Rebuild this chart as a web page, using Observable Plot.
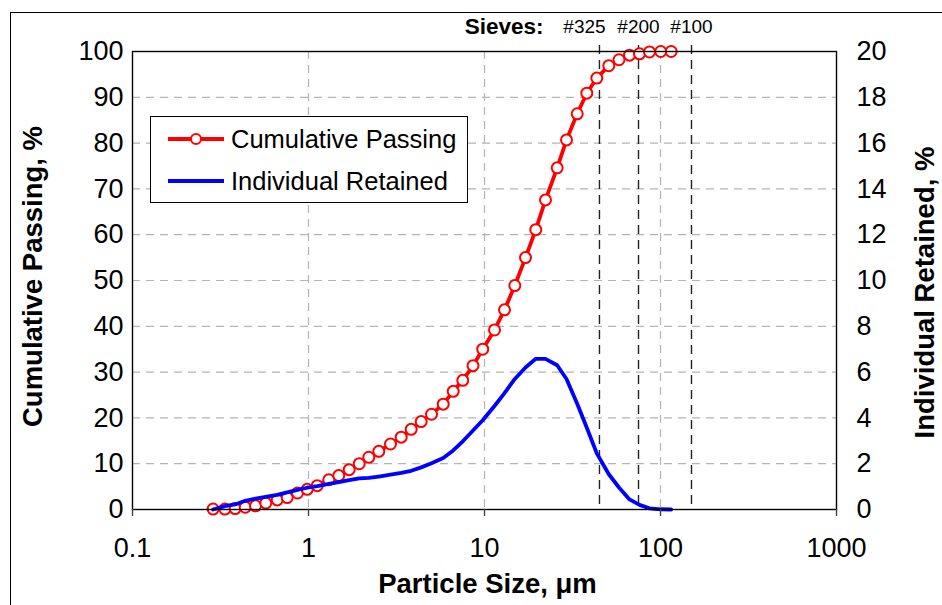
<!DOCTYPE html>
<html>
<head>
<meta charset="utf-8">
<script src="https://cdn.jsdelivr.net/npm/d3@7"></script>
<script src="https://cdn.jsdelivr.net/npm/@observablehq/plot@0.6"></script>
<style>
  html, body { margin: 0; padding: 0; background: #fff; overflow: hidden; }
  #wrap { position: relative; width: 942px; height: 605px; }
  #outer { position: absolute; left: 10px; top: 12px; width: 960px; height: 620px; border: 1.5px solid #000; box-sizing: border-box; }
  #chart { position: absolute; left: 0; top: 0; }
  #legend { position: absolute; left: 150px; top: 116px; width: 318px; height: 87px; border: 1.2px solid #000; background: #fff; box-sizing: border-box; font-family: "Liberation Sans", Arial, sans-serif; font-size: 25.5px; }
  .row { position: absolute; left: 0; height: 30px; display: flex; align-items: center; }
  .row svg { margin-left: 16px; margin-right: 6px; }
</style>
</head>
<body>
<div id="wrap">
  <div id="outer"></div>
  <div id="chart"></div>
  <div id="legend"></div>
</div>
<script>
// Particle sizes (µm) for each measured channel
const sizes = [0.287, 0.335, 0.383, 0.437, 0.500, 0.572, 0.664, 0.757, 0.866, 0.983,
  1.121, 1.304, 1.486, 1.703, 1.942, 2.201, 2.508, 2.924, 3.363, 3.832,
  4.368, 5.000, 5.826, 6.641, 7.526, 8.604, 9.768, 11.40, 12.99, 14.87,
  17.10, 19.56, 22.21, 25.88, 29.24, 33.63, 38.13, 43.46, 50.85, 58.10,
  66.66, 75.96, 86.60, 100.3, 115.0];
// Cumulative passing, %
const cumPassing = [0.1, 0.1, 0.2, 0.5, 0.8, 1.4, 2.1, 2.6, 3.6, 4.4,
  5.2, 6.5, 7.4, 8.7, 10.0, 11.4, 12.7, 14.3, 15.8, 17.5,
  19.2, 20.8, 23.0, 25.8, 28.2, 31.4, 35.0, 39.2, 43.6, 48.9,
  55.0, 61.1, 67.6, 74.6, 80.7, 86.4, 90.9, 94.2, 96.9, 98.2,
  99.2, 99.5, 99.9, 100, 100];
// Individual retained, % (right axis)
const indRetained = [0.0, 0.15, 0.22, 0.38, 0.47, 0.55, 0.64, 0.75, 0.86, 0.95,
  1.02, 1.12, 1.20, 1.28, 1.36, 1.38, 1.44, 1.52, 1.60, 1.69,
  1.84, 2.02, 2.25, 2.58, 2.98, 3.45, 3.90, 4.52, 5.08, 5.70,
  6.20, 6.58, 6.58, 6.30, 5.70, 4.62, 3.57, 2.45, 1.54, 0.96,
  0.44, 0.20, 0.05, 0.01, 0.0];

const sieveSizes = [45, 75, 150];
const sieveLabels = ["#325", "#200", "#100"];
const xTicks = [0.1, 1, 10, 100, 1000];
const xTickLabels = ["0.1", "1", "10", "100", "1000"];
const yTicks = [0, 10, 20, 30, 40, 50, 60, 70, 80, 90, 100];
const y2TickLabels = [0, 2, 4, 6, 8, 10, 12, 14, 16, 18, 20];
const y2Max = 20, yMax = 100;

const data = sizes.map((s, i) => ({size: s, cum: cumPassing[i], ret: indRetained[i]}));
const sieves = sieveSizes.map((s, i) => ({size: s, label: sieveLabels[i]}));
const xTickData = xTicks.map((t, i) => ({x: t, label: xTickLabels[i]}));

const font = "'Liberation Sans', Arial, sans-serif";

const chart = Plot.plot({
  width: 942,
  height: 605,
  marginLeft: 132,
  marginRight: 106,
  marginTop: 51,
  marginBottom: 96,
  style: {fontFamily: font, fontSize: "27px", color: "#000", background: "transparent", overflow: "visible"},
  x: {type: "log", domain: [0.1, 1000], axis: null},
  y: {domain: [0, yMax]},
  marks: [
    Plot.gridY(yTicks, {stroke: "#b4b4b4", strokeOpacity: 1, strokeDasharray: "8,6", strokeWidth: 1.2}),
    Plot.gridX([1, 10, 100], {stroke: "#b4b4b4", strokeOpacity: 1, strokeDasharray: "8,6", strokeWidth: 1.2}),
    Plot.ruleX(sieves, {x: "size", stroke: "#222", strokeDasharray: "9,6", strokeWidth: 1.4, insetTop: -6}),
    Plot.line(data, {x: "size", y: "cum", stroke: "#ff0000", strokeWidth: 3.8}),
    Plot.dot(data, {x: "size", y: "cum", r: 5.5, fill: "white", stroke: "#ff0000", strokeWidth: 2}),
    Plot.line(data, {x: "size", y: d => d.ret * yMax / y2Max, stroke: "#0000ff", strokeWidth: 3.8}),
    Plot.frame({stroke: "#000", strokeWidth: 1.4}),
    // x tick marks (below the axis) and labels
    Plot.ruleX(xTickData, {x: "x", y1: 0, y2: 0, insetBottom: -7, stroke: "#444", strokeWidth: 1.4}),
    Plot.text(xTickData, {x: "x", text: "label", frameAnchor: "bottom", lineAnchor: "middle", dy: 39, fontSize: 27}),
    Plot.axisY({ticks: yTicks, tickSize: 0, tickPadding: 9, label: null, fontSize: 27}),
    Plot.axisY({anchor: "right", ticks: yTicks, tickSize: 0, tickPadding: 20, tickFormat: (d, i) => String(y2TickLabels[i]), label: null, fontSize: 27}),
    Plot.text(["Cumulative Passing, %"], {frameAnchor: "left", textAnchor: "middle", lineAnchor: "middle", dx: -99, dy: -4, rotate: -90, fontWeight: "bold", fontSize: 27.5}),
    Plot.text(["Individual Retained, %"], {frameAnchor: "right", textAnchor: "middle", lineAnchor: "middle", dx: 89, dy: 12, rotate: -90, fontWeight: "bold", fontSize: 27.5}),
    Plot.text(["Particle Size, \u03bcm"], {frameAnchor: "bottom", lineAnchor: "middle", dy: 75, dx: 3, fontWeight: "bold", fontSize: 27.5}),
    Plot.text(sieves.slice(0, 1), {x: "size", text: "label", frameAnchor: "top", lineAnchor: "middle", dy: -25, dx: -15, fontSize: 19}),
    Plot.text(sieves.slice(1), {x: "size", text: "label", frameAnchor: "top", lineAnchor: "middle", dy: -25, fontSize: 19}),
    Plot.text(sieves.slice(0, 1), {x: "size", text: () => "Sieves:", frameAnchor: "top", lineAnchor: "middle", dy: -25, dx: -56, textAnchor: "end", fontWeight: "bold", fontSize: 22.5, letterSpacing: "1.6px"})
  ]
});
document.getElementById("chart").appendChild(chart);

// Legend
const legend = document.getElementById("legend");
const entries = [
  {label: "Cumulative Passing", color: "#ff0000", marker: true, top: 7},
  {label: "Individual Retained", color: "#0000ff", marker: false, top: 49}
];
entries.forEach(e => {
  const row = document.createElement("div");
  row.className = "row";
  row.style.top = e.top + "px";
  row.innerHTML = `<svg width="58" height="20"><line x1="1" x2="57" y1="10" y2="10" stroke="${e.color}" stroke-width="3.8"/>` +
    (e.marker ? `<circle cx="29" cy="10" r="5" fill="white" stroke="${e.color}" stroke-width="2"/>` : "") +
    `</svg><span>${e.label}</span>`;
  legend.appendChild(row);
});
</script>
</body>
</html>
